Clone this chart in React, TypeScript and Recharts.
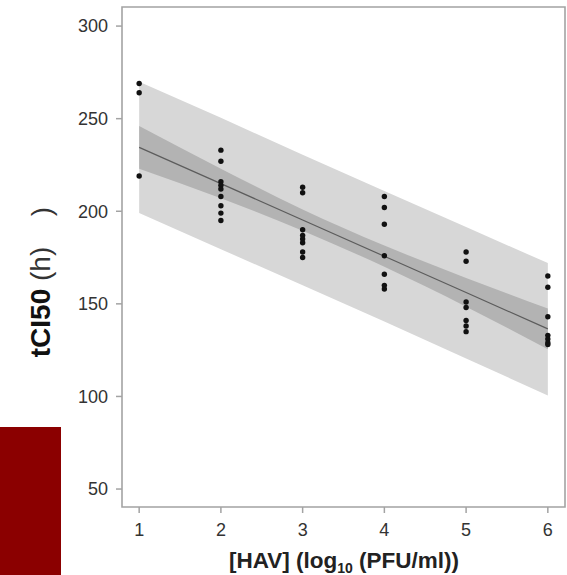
import React from "react";
import {
  Area,
  ComposedChart,
  Label,
  Line,
  ReferenceArea,
  Scatter,
  XAxis,
  YAxis,
} from "recharts";

// dose levels (log10 PFU/ml) and the fitted regression with its bands
const doses = [1, 2, 3, 4, 5, 6];
const fitted = [234.5, 214.9, 195.3, 175.7, 156.1, 136.5];
const ciLower = [223, 207, 189.5, 170, 148.5, 125.5];
const ciUpper = [246, 223, 201, 181.5, 164, 147.5];
const piLower = [199, 179.5, 160, 140.5, 120.5, 100.5];
const piUpper = [270, 250.5, 230.5, 211, 191.5, 172];

// observed tCI50 values per dose
const obsDose1 = [269, 264, 219];
const obsDose2 = [233, 227, 216, 214, 212, 208, 203, 199, 195];
const obsDose3 = [213, 210, 190, 187, 185, 183, 178, 175];
const obsDose4 = [208, 202, 193, 176, 166, 160, 158];
const obsDose5 = [178, 173, 151, 148, 141, 138, 135];
const obsDose6 = [165, 159, 143, 133, 131, 129, 128];

const xTicks = [1, 2, 3, 4, 5, 6];
const yTicks = [50, 100, 150, 200, 250, 300];
const xDomain = [0.79, 6.21];
const yDomain = [40.3, 310.3];

const bandData = doses.map((x, i) => ({
  x,
  fit: fitted[i],
  ci: [ciLower[i], ciUpper[i]],
  pi: [piLower[i], piUpper[i]],
}));

const obsByDose = [obsDose1, obsDose2, obsDose3, obsDose4, obsDose5, obsDose6];
const points = obsByDose.flatMap((vals, i) => vals.map((y) => ({ x: doses[i], y })));

const font = "'Liberation Sans', Arial, sans-serif";
const axisGray = "#a3a3a3";

function Dot(props: any) {
  return <circle cx={props.cx} cy={props.cy} r={2.7} fill="#111" />;
}

export default function App() {
  return (
    <div style={{ position: "absolute", left: 0, top: 0, width: 567, height: 575, background: "#fff" }}>
      <div style={{ position: "absolute", left: 0, top: 427, width: 61, height: 148, background: "#8b0000" }} />
      <ComposedChart
        width={567}
        height={575}
        data={bandData}
        margin={{ top: 7, right: 2, bottom: 8, left: 0 }}
        style={{ fontFamily: font }}
      >
        <XAxis
          dataKey="x"
          type="number"
          domain={xDomain}
          ticks={xTicks}
          allowDataOverflow
          axisLine={false}
          tickLine={{ stroke: axisGray, strokeWidth: 1.5 }}
          tickSize={6}
          tickMargin={10}
          height={60}
          tick={{ fill: "#333", fontSize: 18, fontFamily: font }}
        >
          <Label
            content={() => (
              <text x={344} y={568} textAnchor="middle" fontFamily={font} fontWeight="bold" fontSize={22.5} fill="#222">
                [HAV] (log
                <tspan fontSize={14} dy={5}>10</tspan>
                <tspan dy={-5}> (PFU/ml))</tspan>
              </text>
            )}
          />
        </XAxis>
        <YAxis
          type="number"
          domain={yDomain}
          ticks={yTicks}
          allowDataOverflow
          axisLine={false}
          tickLine={{ stroke: axisGray, strokeWidth: 1.5 }}
          tickSize={6}
          tickMargin={8}
          width={122}
          tick={{ fill: "#333", fontSize: 18, fontFamily: font }}
        >
          <Label
            content={() => (
              <g>
                <text
                  transform="translate(49.5,302) rotate(-90)"
                  textAnchor="middle"
                  fontFamily={font}
                  fontSize={28}
                  fill="#111"
                >
                  <tspan fontWeight="bold">tCI50</tspan>
                  <tspan fill="#333"> (h)</tspan>
                </text>
                <text
                  transform="translate(51,211.5) rotate(-90)"
                  textAnchor="middle"
                  fontFamily={font}
                  fontSize={28}
                  fill="#333"
                >
                  )
                </text>
              </g>
            )}
          />
        </YAxis>
        <ReferenceArea
          x1={xDomain[0]}
          x2={xDomain[1]}
          y1={yDomain[0]}
          y2={yDomain[1]}
          fill="#fff"
          fillOpacity={1}
          stroke={axisGray}
          strokeWidth={1.6}
          ifOverflow="visible"
        />
        <Area
          dataKey="pi"
          type="linear"
          fill="#d7d7d7"
          fillOpacity={1}
          stroke="none"
          dot={false}
          activeDot={false}
          isAnimationActive={false}
        />
        <Area
          dataKey="ci"
          type="monotone"
          fill="#b3b3b3"
          fillOpacity={1}
          stroke="none"
          dot={false}
          activeDot={false}
          isAnimationActive={false}
        />
        <Line
          dataKey="fit"
          type="linear"
          stroke="#5c5c5c"
          strokeWidth={1.2}
          dot={false}
          activeDot={false}
          isAnimationActive={false}
        />
        <Scatter data={points} dataKey="y" shape={<Dot />} isAnimationActive={false} />
        <text x={535} y={70} textAnchor="end" fontFamily={font} fontWeight="bold" fontSize={50} fill="#111">
          P3
        </text>
      </ComposedChart>
    </div>
  );
}
